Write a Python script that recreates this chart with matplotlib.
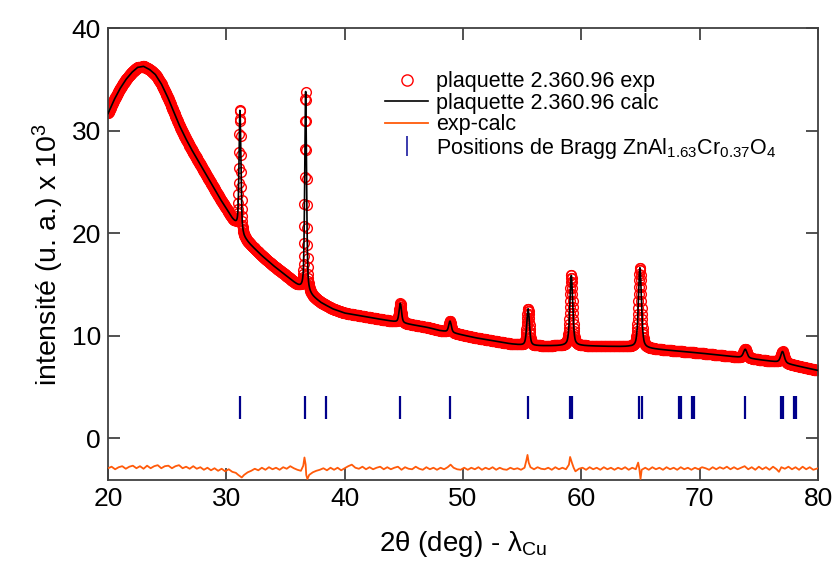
import numpy as np
import matplotlib
matplotlib.use('Agg')
from matplotlib import pyplot as plt

plt.rcParams['font.family'] = ['Liberation Sans', 'DejaVu Sans']
plt.rcParams['mathtext.fontset'] = 'custom'
plt.rcParams['mathtext.rm'] = 'Liberation Sans'
plt.rcParams['mathtext.it'] = 'Liberation Sans:italic'

# background (2theta, intensity x 10^3)
bg_x = [20.0, 20.5, 21.0, 21.5, 22.0, 22.5, 23.0, 23.5, 24.0, 24.5, 25.0, 25.5,
        26.0, 26.5, 27.0, 27.5, 28.0, 28.5, 29.0, 29.5, 30.0, 30.5, 30.9, 31.5,
        32.0, 33.0, 34.0, 35.0, 36.0, 36.5, 37.0, 38.0, 39.0, 40.0, 41.0, 42.0,
        43.0, 44.0, 45.0, 46.0, 47.0, 48.0, 49.0, 50.0, 51.0, 52.0, 53.0, 54.0,
        55.0, 56.0, 60.0, 64.0, 66.0, 68.0, 70.0, 72.0, 74.0, 76.0, 77.0, 78.0, 80.0]
bg_y = [31.7, 33.0, 34.1, 35.0, 35.7, 36.2, 36.3, 36.0, 35.5, 34.6, 33.4, 32.0,
        30.6, 29.4, 28.3, 27.3, 26.3, 25.3, 24.3, 23.3, 22.4, 21.4, 20.7, 19.5,
        18.9, 17.8, 16.8, 15.9, 14.9, 14.4, 14.0, 13.2, 12.6, 12.2, 12.0, 11.8,
        11.6, 11.4, 11.2, 11.0, 10.8, 10.5, 10.3, 10.05, 9.8, 9.6, 9.4, 9.2,
        9.05, 9.0, 9.0, 8.9, 8.7, 8.5, 8.3, 8.05, 7.8, 7.5, 7.35, 7.1, 6.6]

# peaks : position, height above background, half width
pk_pos = [31.15, 36.70, 44.70, 48.90, 55.50, 59.15, 64.95, 73.85, 77.00]
pk_h = [11.9, 19.6, 1.9, 1.1, 3.6, 6.9, 7.85, 0.85, 1.1]
pk_w = [0.09, 0.09, 0.12, 0.13, 0.13, 0.14, 0.15, 0.18, 0.18]

# exp - calc, offset
diff_x = [20.0, 20.3, 20.6, 20.9, 21.2, 21.5, 21.8, 22.1, 22.4, 22.7, 23.0, 23.3,
          23.6, 23.9, 24.2, 24.5, 24.8, 25.1, 25.4, 25.7, 26.0, 26.3, 26.6, 26.9,
          27.2, 27.5, 27.8, 28.1, 28.4, 28.7, 29.0, 29.3, 29.6, 29.9, 30.2, 30.5,
          30.8, 31.0, 31.3, 31.5, 31.8, 32.1, 32.4, 32.7, 33.0, 33.3, 33.6, 33.9,
          34.2, 34.5, 34.8, 35.1, 35.4, 35.7, 36.0, 36.3, 36.5, 36.6, 36.7, 36.75,
          36.85, 37.0, 37.3, 37.6, 37.9, 38.2, 38.5, 38.8, 39.1, 39.4, 39.7, 40.0,
          40.3, 40.6, 40.9, 41.2, 41.5, 41.8, 42.1, 42.4, 42.7, 43.0, 43.3, 43.6,
          43.9, 44.2, 44.5, 44.8, 45.1, 45.4, 45.7, 46.0, 46.3, 46.6, 46.9, 47.2,
          47.5, 47.8, 48.1, 48.4, 48.7, 48.95, 49.2, 49.5, 49.8, 50.1, 50.4, 50.7,
          51.0, 51.3, 51.6, 51.9, 52.2, 52.5, 52.8, 53.1, 53.4, 53.7, 54.0, 54.3,
          54.6, 54.9, 55.2, 55.35, 55.45, 55.55, 55.7, 56.0, 56.3, 56.6, 56.9, 57.2,
          57.5, 57.8, 58.1, 58.4, 58.7, 58.95, 59.05, 59.2, 59.35, 59.5, 59.8, 60.1,
          60.4, 60.7, 61.0, 61.3, 61.6, 61.9, 62.2, 62.5, 62.8, 63.1, 63.4, 63.7,
          64.0, 64.3, 64.6, 64.8, 64.9, 65.0, 65.1, 65.4, 65.7, 66.0, 66.3, 66.6,
          66.9, 67.2, 67.5, 67.8, 68.1, 68.4, 68.7, 69.0, 69.3, 69.6, 69.9, 70.2,
          70.5, 70.8, 71.1, 71.4, 71.7, 72.0, 72.3, 72.6, 72.9, 73.2, 73.5, 73.8,
          74.1, 74.4, 74.7, 75.0, 75.3, 75.6, 75.9, 76.2, 76.5, 76.7, 76.9, 77.2,
          77.5, 77.8, 78.1, 78.4, 78.7, 79.0, 79.3, 79.6, 80.0]
diff_y = [-2.95, -2.8, -3.05, -2.85, -2.75, -3.0, -2.8, -2.7, -2.95, -2.75, -3.0, -2.7,
          -2.95, -2.75, -2.65, -2.95, -2.75, -2.7, -2.95, -2.75, -2.65, -2.95, -2.8, -3.0,
          -2.75, -3.0, -2.85, -3.1, -2.9, -3.15, -2.95, -3.2, -3.0, -3.25, -3.05, -3.3,
          -3.4, -3.6, -3.85, -3.6, -3.35, -3.2, -3.0, -3.15, -2.9, -3.1, -2.85, -3.05,
          -2.9, -3.1, -2.85, -3.0, -2.75, -2.95, -3.1, -3.2, -2.7, -1.9, -2.6, -3.6,
          -4.0, -3.6, -3.35, -3.2, -3.1, -2.95, -3.15, -2.9, -3.1, -2.9, -3.15, -2.95,
          -2.75, -2.6, -2.9, -3.0, -2.8, -3.05, -2.85, -3.05, -2.9, -2.8, -3.05, -2.85,
          -3.05, -2.9, -2.8, -3.1, -2.85, -3.0, -3.05, -2.8, -3.0, -3.1, -2.85, -3.05,
          -2.9, -3.1, -2.9, -3.05, -2.85, -2.6, -2.9, -3.05, -3.1, -2.9, -3.1, -2.9,
          -3.05, -2.85, -3.1, -2.9, -3.05, -2.85, -3.1, -2.9, -3.05, -3.1, -2.9, -3.05,
          -2.95, -3.1, -2.9, -2.2, -1.65, -2.4, -2.85, -3.05, -2.85, -3.0, -3.05, -2.9,
          -3.1, -2.85, -3.05, -2.9, -3.05, -2.6, -1.85, -2.4, -2.9, -3.25, -3.0, -2.9,
          -3.1, -2.85, -3.05, -2.9, -3.1, -2.85, -3.05, -2.9, -3.1, -2.9, -3.05, -2.85,
          -3.1, -2.9, -3.05, -2.4, -3.0, -4.0, -3.1, -2.9, -3.1, -2.85, -3.05, -2.9,
          -3.1, -2.85, -3.05, -2.9, -3.1, -2.85, -3.05, -2.9, -3.1, -2.9, -3.05, -2.85,
          -2.95, -3.1, -2.85, -3.05, -2.85, -3.0, -2.8, -3.05, -2.85, -3.05, -2.9, -2.75,
          -3.05, -2.85, -3.1, -2.8, -3.05, -2.85, -3.1, -2.8, -3.05, -3.3, -2.85, -3.0,
          -2.8, -3.05, -2.85, -3.1, -2.8, -3.05, -2.85, -3.1, -2.95]

# Bragg positions
bragg = [31.13, 36.67, 38.44, 44.64, 48.90, 55.49, 59.03, 59.20, 64.90, 65.10,
         68.25, 68.42, 69.35, 69.56, 73.82, 76.90, 77.07, 77.95, 78.12]

# calculated profile
tt = np.arange(20.0, 80.001, 0.02)
calc = np.interp(tt, bg_x, bg_y)
for p, h, w in zip(pk_pos, pk_h, pk_w):
    u = (tt - p) / w
    calc = calc + h * (0.5 / (1 + u**2) + 0.5 * np.exp(-np.log(2) * u**2))

fig = plt.figure(figsize=(8.33, 5.63), dpi=100)
ax = fig.add_axes([0.1297, 0.1474, 0.8523, 0.802])

ax.plot(tt, calc, 'o', mfc='none', mec='red', ms=7, mew=1.0,
        label='plaquette 2.360.96 exp', zorder=2)
ax.plot(tt, calc, '-', color='black', lw=1.2,
        label='plaquette 2.360.96 calc', zorder=3)
ax.plot(diff_x, diff_y, '-', color='#ff5a0a', lw=1.3, label='exp-calc', zorder=3)
ax.vlines(bragg, 1.85, 4.1, color='#00008b', lw=1.6)
ax.plot([], [], '|', color='#1a1aa0', ms=12, mew=1.2,
        label=r'Positions de Bragg ZnAl$_{1.63}$Cr$_{0.37}$O$_4$')

ax.set_xlim(20, 80)
ax.set_ylim(-4.1, 40)
ax.set_xticks([20, 30, 40, 50, 60, 70, 80])
ax.set_yticks([0, 10, 20, 30, 40])
ax.tick_params(direction='in', length=8.5, width=1.2, labelsize=19, pad=5,
               top=True, right=True, colors='#333333', labelcolor='black')
for s in ax.spines.values():
    s.set_color('#404040')
    s.set_linewidth(1.3)

ax.set_xlabel(r'2θ (deg) - λ$_{\mathrm{Cu}}$', fontsize=20, labelpad=13)
ax.set_ylabel(r'intensité (u. a.) x 10$^{3}$', fontsize=20.5, labelpad=4)

ax.legend(loc='upper left', bbox_to_anchor=(0.375, 0.929), frameon=False,
          fontsize=15.5, numpoints=1, handlelength=2.0, handletextpad=0.35,
          labelspacing=0.02, borderpad=0, markerscale=1.15)

fig.savefig('out.png', dpi=100)
